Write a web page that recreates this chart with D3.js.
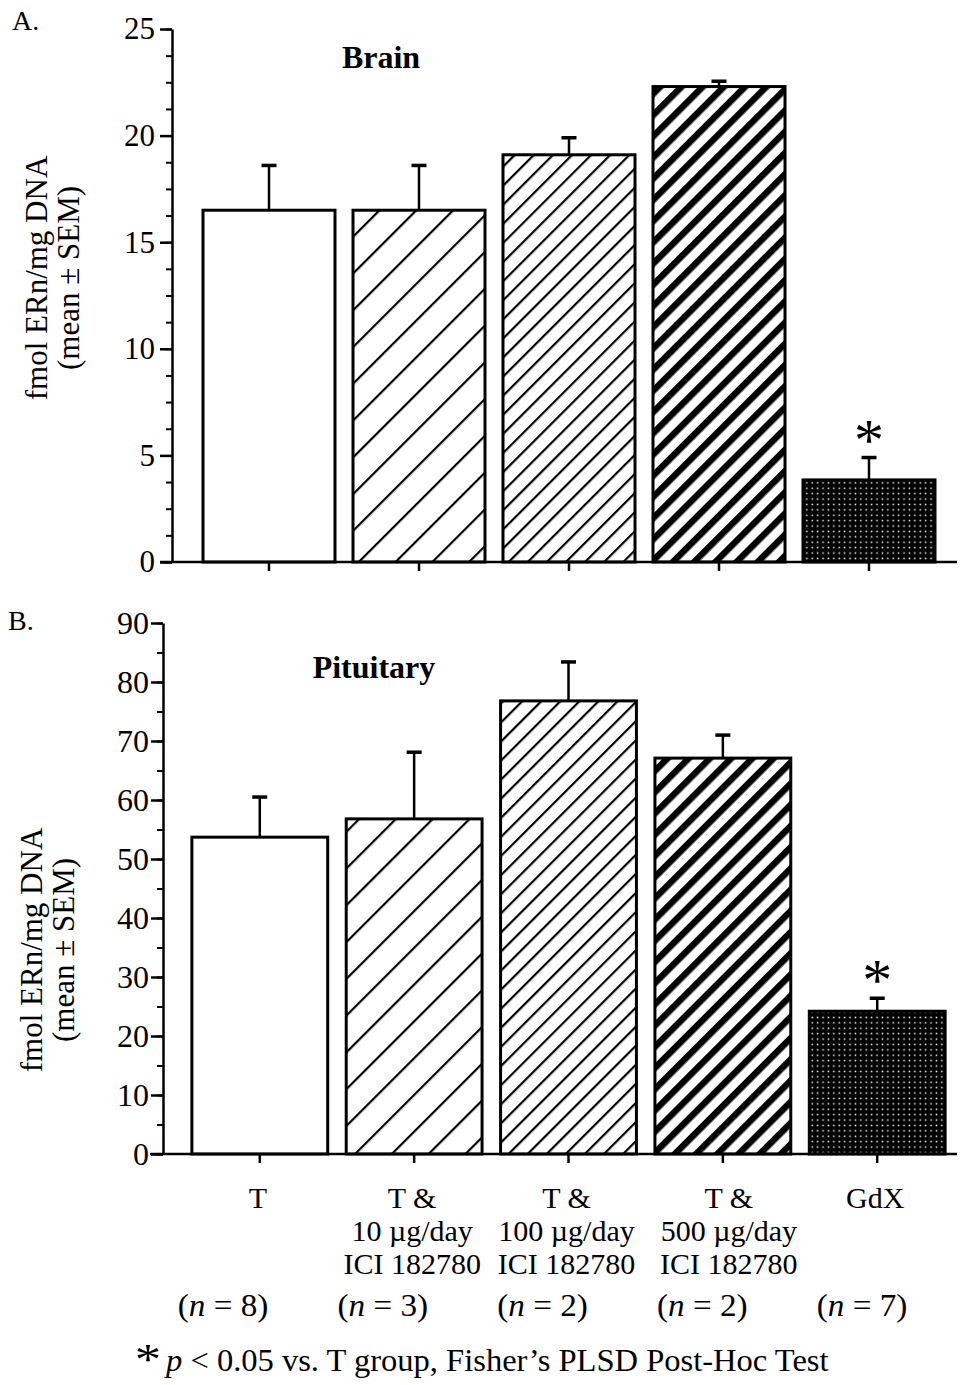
<!DOCTYPE html>
<html>
<head>
<meta charset="utf-8">
<script src="https://cdn.jsdelivr.net/npm/d3@7"></script>
<style>
  body { margin: 0; background: #fff; }
  svg { display: block; }
  text { font-family: "Liberation Serif", "Times New Roman", serif; fill: #000; }
</style>
</head>
<body>
<div id="chart"></div>
<script>
// groups, left to right
const groups = ['T', 'T10', 'T100', 'T500', 'GdX'];
const groupLabels = [
    ['T'],
    ['T &', '10 \u00b5g/day', 'ICI 182780'],
    ['T &', '100 \u00b5g/day', 'ICI 182780'],
    ['T &', '500 \u00b5g/day', 'ICI 182780'],
    ['GdX']
];
const groupN = [8, 3, 2, 2, 7];

// Brain (panel A)
const brainMean = [16.5, 16.5, 19.1, 22.3, 3.85];
const brainSem = [2.1, 2.1, 0.8, 0.25, 1.05];
const brainTicks = [0, 5, 10, 15, 20, 25];

// Pituitary (panel B)
const pitMean = [53.7, 56.8, 76.8, 67.1, 24.2];
const pitSem = [6.8, 11.3, 6.6, 3.9, 2.2];
const pitTicks = [0, 10, 20, 30, 40, 50, 60, 70, 80, 90];

// significant vs. T group
const sigGroups = ['GdX'];

const fills = ['#fff', 'url(#hatchWide)', 'url(#hatchFine)', 'url(#hatchBold)', 'url(#dots)'];

const width = 960, height = 1385;
const SX = 1.07; // the scanned lettering is a bit wider than Liberation Serif

const svg = d3.select('#chart')
    .append('svg')
    .attr('width', width)
    .attr('height', height);

// fill patterns
const defs = svg.append('defs');

function hatch(id, spacing, lineWidth) {
    const p = defs.append('pattern')
        .attr('id', id)
        .attr('patternUnits', 'userSpaceOnUse')
        .attr('width', spacing)
        .attr('height', spacing)
        .attr('patternTransform', 'rotate(45)');
    p.append('rect').attr('width', spacing).attr('height', spacing).attr('fill', '#fff');
    p.append('rect')
        .attr('x', 0).attr('y', 0)
        .attr('width', lineWidth).attr('height', spacing)
        .attr('fill', '#000');
}
hatch('hatchWide', 26, 2.2);
hatch('hatchFine', 13.5, 2.2);
hatch('hatchBold', 15, 6.5);

const dots = defs.append('pattern')
    .attr('id', 'dots')
    .attr('patternUnits', 'userSpaceOnUse')
    .attr('width', 5.4)
    .attr('height', 5.4);
dots.append('rect').attr('width', 5.4).attr('height', 5.4).attr('fill', '#000');
dots.append('rect').attr('x', 1.5).attr('y', 1.5).attr('width', 1.5).attr('height', 1.5).attr('fill', '#fff');

function drawPanel(cfg) {
    const g = svg.append('g');

    const x = d3.scaleBand()
        .domain(groups)
        .range(cfg.xRange)
        .paddingInner(0.12)
        .paddingOuter(0.2);

    const y = d3.scaleLinear()
        .domain([0, d3.max(cfg.ticks)])
        .range(cfg.yRange);

    const data = groups.map((k, i) => ({ key: k, mean: cfg.mean[i], sem: cfg.sem[i], fill: fills[i] }));

    // minor ticks
    g.append('g')
        .attr('transform', `translate(${cfg.axisX},0)`)
        .call(d3.axisLeft(y).tickValues(d3.range(0, d3.max(cfg.ticks) + 0.001, cfg.minorStep)).tickSize(6).tickFormat(''))
        .call(s => s.select('.domain').remove())
        .call(s => s.selectAll('line').attr('stroke-width', 2));

    // major ticks + labels
    g.append('g')
        .attr('transform', `translate(${cfg.axisX},0)`)
        .call(d3.axisLeft(y).tickValues(cfg.ticks).tickSize(12).tickSizeOuter(0).tickPadding(cfg.tickPad))
        .call(s => s.select('.domain').attr('stroke-width', 2.5))
        .call(s => s.selectAll('line').attr('stroke-width', 2.5))
        .call(s => s.selectAll('text')
            .attr('font-family', '"Liberation Serif", serif')
            .attr('font-size', cfg.tickFont));

    // bars
    g.append('g')
        .selectAll('rect')
        .data(data)
        .join('rect')
        .attr('x', d => x(d.key))
        .attr('y', d => y(d.mean))
        .attr('width', x.bandwidth())
        .attr('height', d => y(0) - y(d.mean))
        .attr('fill', d => d.fill)
        .attr('stroke', '#000')
        .attr('stroke-width', 3);

    // error bars (upper half only)
    const err = g.append('g')
        .selectAll('g')
        .data(data)
        .join('g');
    err.append('line')
        .attr('x1', d => x(d.key) + x.bandwidth() / 2)
        .attr('x2', d => x(d.key) + x.bandwidth() / 2)
        .attr('y1', d => y(d.mean))
        .attr('y2', d => y(d.mean + d.sem))
        .attr('stroke', '#000')
        .attr('stroke-width', 2.5);
    err.append('line')
        .attr('x1', d => x(d.key) + x.bandwidth() / 2 - 7.5)
        .attr('x2', d => x(d.key) + x.bandwidth() / 2 + 7.5)
        .attr('y1', d => y(d.mean + d.sem))
        .attr('y2', d => y(d.mean + d.sem))
        .attr('stroke', '#000')
        .attr('stroke-width', 3.5);

    // significance marks
    g.append('g')
        .selectAll('text')
        .data(data.filter(d => sigGroups.includes(d.key)))
        .join('text')
        .attr('x', d => x(d.key) + x.bandwidth() / 2)
        .attr('y', d => y(d.mean + d.sem) + 2)
        .attr('text-anchor', 'middle')
        .attr('font-size', 60)
        .text('*');

    // x axis: baseline line and category ticks
    g.append('line')
        .attr('x1', cfg.xAxisStart)
        .attr('x2', 957)
        .attr('y1', y(0))
        .attr('y2', y(0))
        .attr('stroke', '#000')
        .attr('stroke-width', 2.5);
    g.append('g')
        .attr('transform', `translate(0,${y(0)})`)
        .call(d3.axisBottom(x).tickSize(9).tickFormat(''))
        .call(s => s.select('.domain').remove())
        .call(s => s.selectAll('line').attr('stroke-width', 2.5));

    // panel letter and title
    g.append('text')
        .attr('x', cfg.letterX)
        .attr('y', cfg.letterY)
        .attr('font-size', 28)
        .text(cfg.letter);
    g.append('text')
        .attr('x', cfg.titleX)
        .attr('y', cfg.titleY)
        .attr('text-anchor', 'middle')
        .attr('font-size', 32)
        .attr('font-weight', 'bold')
        .text(cfg.title);

    // y axis title, two lines
    const yl = g.append('text')
        .attr('transform', `translate(${cfg.yLabelX},${cfg.yLabelY}) rotate(-90)`)
        .attr('text-anchor', 'middle')
        .attr('font-size', 31);
    yl.append('tspan').attr('x', 0).attr('y', 0).text('fmol ERn/mg DNA');
    yl.append('tspan').attr('x', 0).attr('y', 32).text('(mean \u00b1 SEM)');

    return x;
}

drawPanel({
    letter: 'A.', letterX: 12, letterY: 30,
    title: 'Brain', titleX: 381, titleY: 68,
    mean: brainMean, sem: brainSem, ticks: brainTicks, minorStep: 1.25,
    xRange: [173, 965], yRange: [562, 29],
    axisX: 172, xAxisStart: 160, tickPad: 5, tickFont: 31,
    yLabelX: 47, yLabelY: 278
});

const xB = drawPanel({
    letter: 'B.', letterX: 8, letterY: 630,
    title: 'Pituitary', titleX: 374, titleY: 678,
    mean: pitMean, sem: pitSem, ticks: pitTicks, minorStep: 5,
    xRange: [161, 976], yRange: [1154, 623],
    axisX: 163, xAxisStart: 150, tickPad: 2, tickFont: 32,
    yLabelX: 42, yLabelY: 950
});

// category labels under panel B
const cat = svg.append('g')
    .selectAll('text')
    .data(groups)
    .join('text')
    .attr('transform', (k, i) => `translate(${xB(k) + xB.bandwidth() / 2 + (i === 3 ? 6 : -2)},0)`)
    .attr('text-anchor', 'middle')
    .attr('font-size', 30);
cat.each(function(k, i) {
    const t = d3.select(this);
    groupLabels[i].forEach((line, j) => {
        t.append('tspan')
            .attr('x', 0)
            .attr('y', 1208 + j * 33)
            .text(line);
    });
});

// n per group, set a little left of the bar centres as in the original
const xN = d3.scalePoint().domain(groups).range([223, 862]);
const nl = svg.append('g')
    .selectAll('text')
    .data(groups)
    .join('text')
    .attr('transform', k => `translate(${xN(k)},1316) scale(${SX},1)`)
    .attr('text-anchor', 'middle')
    .attr('font-size', 31);
nl.append('tspan').text('(');
nl.append('tspan').attr('font-style', 'italic').text('n');
nl.append('tspan').text((k, i) => ' = ' + groupN[i] + ')');

// footnote
svg.append('text')
    .attr('transform', `translate(148,1374) scale(1.2,1)`)
    .attr('text-anchor', 'middle')
    .attr('font-size', 44)
    .text('*');
const fn = svg.append('text')
    .attr('transform', `translate(166,1371) scale(1.05,1)`)
    .attr('font-size', 31);
fn.append('tspan').attr('font-style', 'italic').text('p');
fn.append('tspan').text(' < 0.05 vs. T group, Fisher\u2019s PLSD Post-Hoc Test');
</script>
</body>
</html>
